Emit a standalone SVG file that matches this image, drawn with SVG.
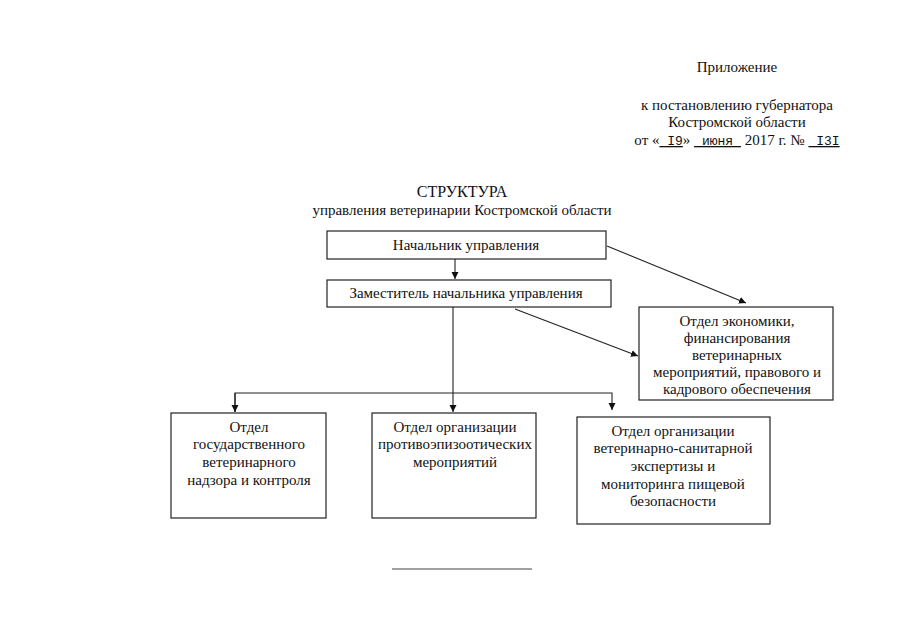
<svg xmlns="http://www.w3.org/2000/svg" width="905" height="640" viewBox="0 0 905 640">
<defs>
<marker id="ar" markerWidth="8" markerHeight="8" refX="7" refY="4" orient="auto" markerUnits="userSpaceOnUse">
<path d="M0,0.5 L7,4 L0,7.5 Z" fill="#111"/>
</marker>
</defs>
<style>
text{font-family:"Liberation Serif","Times New Roman",serif;font-size:15px;fill:#111;text-anchor:middle}
.m{font-family:"Liberation Mono","Courier New",monospace;font-size:13px}
.box{fill:#fff;stroke:#222;stroke-width:1.2}
.c{fill:none;stroke:#222;stroke-width:1.1}
</style>
<rect width="905" height="640" fill="#fff"/>
<g id="header">
<text x="737" y="72">Приложение</text>
<text x="737" y="110">к постановлению губернатора</text>
<text x="737" y="127">Костромской области</text>
<text x="737" y="145" xml:space="preserve">от «<tspan class="m" text-decoration="underline"> I9</tspan>» <tspan class="m" text-decoration="underline"> июня </tspan> 2017 г. № <tspan class="m" text-decoration="underline"> I3I</tspan></text>
<text x="462" y="197" style="font-size:16px">СТРУКТУРА</text>
<text x="462" y="215">управления ветеринарии Костромской области</text>
</g>
<g id="connectors">
<line class="c" x1="455" y1="259" x2="455" y2="279" marker-end="url(#ar)"/>
<line class="c" x1="607" y1="246" x2="746" y2="303" marker-end="url(#ar)"/>
<line class="c" x1="515" y1="309" x2="638" y2="356" marker-end="url(#ar)"/>
<line class="c" x1="453" y1="307" x2="453" y2="412" marker-end="url(#ar)"/>
<polyline class="c" points="235,412 235,393 612,393 612,410" marker-end="url(#ar)"/>
<line class="c" x1="235" y1="393" x2="235" y2="412" marker-end="url(#ar)"/>
</g>
<g id="n1">
<rect class="box" x="327" y="231" width="279" height="28"/>
<text x="466" y="250">Начальник управления</text>
</g>
<g id="n2">
<rect class="box" x="327" y="280" width="284" height="27"/>
<text x="466" y="298">Заместитель начальника управления</text>
</g>
<g id="n3">
<rect class="box" x="639" y="307" width="194" height="93"/>
<text x="737" y="326">Отдел экономики,</text>
<text x="737" y="343">финансирования</text>
<text x="737" y="360">ветеринарных</text>
<text x="737" y="377">мероприятий, правового и</text>
<text x="737" y="394">кадрового обеспечения</text>
</g>
<g id="n4">
<rect class="box" x="171" y="413" width="155" height="105"/>
<text x="249" y="432">Отдел</text>
<text x="249" y="449">государственного</text>
<text x="249" y="467">ветеринарного</text>
<text x="249" y="485">надзора и контроля</text>
</g>
<g id="n5">
<rect class="box" x="372" y="413" width="164" height="105"/>
<text x="455" y="432">Отдел организации</text>
<text x="455" y="449">противоэпизоотических</text>
<text x="455" y="467">мероприятий</text>
</g>
<g id="n6">
<rect class="box" x="577" y="417" width="193" height="107"/>
<text x="673" y="436">Отдел организации</text>
<text x="673" y="453">ветеринарно-санитарной</text>
<text x="673" y="471">экспертизы и</text>
<text x="673" y="489">мониторинга пищевой</text>
<text x="673" y="506">безопасности</text>
</g>
<line x1="392" y1="569" x2="532" y2="569" stroke="#444" stroke-width="1"/>
</svg>
